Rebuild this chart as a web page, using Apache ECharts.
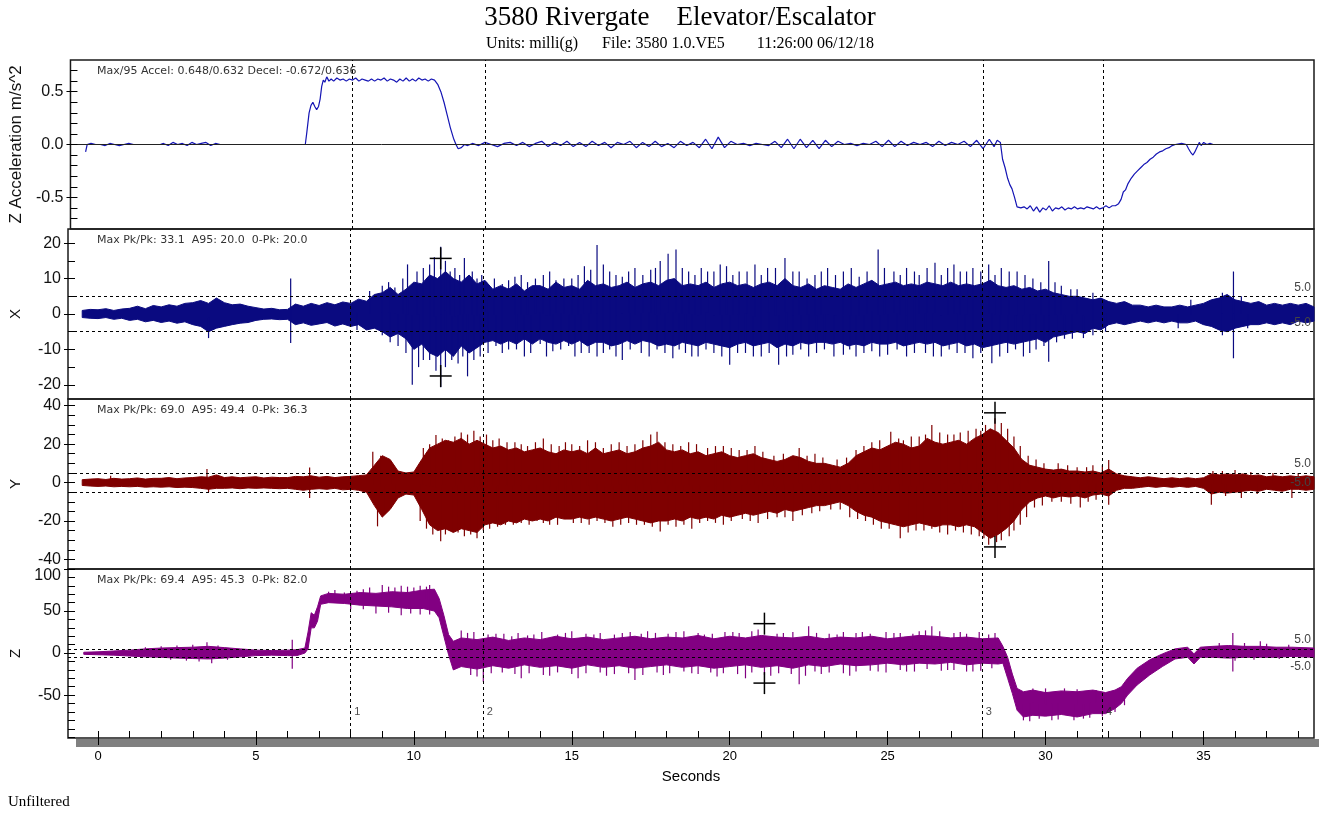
<!DOCTYPE html>
<html lang="en">
<head>
<meta charset="UTF-8">
<title>3580 Rivergate Elevator/Escalator</title>
<script src="https://cdn.jsdelivr.net/npm/echarts@6/dist/echarts.min.js"></script>
<style>
    html, body { margin: 0; background: #fff; }
    #chart { width: 1319px; height: 814px; }
</style>
</head>
<body>
<div id="chart"></div>
<script>
    // ---- Z acceleration trace, [seconds, m/s^2] ----
    var accelTrace = [
        [-0.47,-0.07],[-0.42,0.0],[-0.3,0.01],[-0.15,0.0],[0.0,0.0],[0.15,-0.01],[0.3,0.01],[0.45,0.0],[0.6,-0.01],[0.75,0.0],
        [0.9,0.01],[1.05,0.0],[1.3,0.0],[1.6,0.0],[1.9,0.0],[2.0,0.01],[2.15,-0.01],[2.3,0.02],[2.45,0.0],[2.6,0.01],
        [2.75,-0.01],[2.9,0.02],[3.05,0.0],[3.2,0.01],[3.35,0.02],[3.5,-0.01],[3.65,0.01],[3.8,0.0],[4.0,0.0],[4.5,0.0],
        [5.0,0.0],[5.5,0.0],[6.0,0.0],[6.5,0.0],[6.55,0.12],[6.62,0.3],[6.68,0.37],[6.74,0.40],[6.8,0.36],[6.86,0.33],
        [6.92,0.36],[6.97,0.43],[7.02,0.55],[7.07,0.61],[7.12,0.59],[7.18,0.64],[7.25,0.6],[7.32,0.62],[7.4,0.6],[7.5,0.63],
        [7.6,0.61],[7.7,0.62],[7.8,0.6],[7.9,0.62],[8.0,0.61],[8.1,0.63],[8.2,0.6],[8.3,0.62],[8.4,0.61],[8.5,0.6],
        [8.6,0.62],[8.7,0.6],[8.8,0.62],[8.9,0.61],[9.0,0.63],[9.1,0.6],[9.2,0.62],[9.3,0.61],[9.4,0.59],[9.5,0.62],
        [9.6,0.6],[9.7,0.63],[9.8,0.6],[9.9,0.62],[10.0,0.6],[10.1,0.63],[10.2,0.61],[10.3,0.62],[10.4,0.6],[10.5,0.62],
        [10.6,0.61],[10.7,0.57],[10.8,0.5],[10.9,0.4],[11.0,0.28],[11.1,0.16],[11.2,0.06],[11.28,0.0],[11.35,-0.04],[11.45,-0.03],
        [11.55,0.0],[11.65,-0.01],[11.8,0.01],[12.0,-0.01],[12.2,0.02],[12.4,0.0],[12.6,-0.02],[12.8,0.01],[13.0,0.02],[13.2,-0.01],
        [13.4,0.02],[13.6,-0.02],[13.8,0.01],[14.0,0.03],[14.2,-0.02],[14.4,0.02],[14.6,-0.01],[14.8,0.03],[15.0,-0.02],[15.2,0.02],
        [15.4,-0.02],[15.6,0.03],[15.8,-0.01],[16.0,0.02],[16.2,-0.03],[16.4,0.02],[16.6,0.0],[16.8,0.03],[17.0,-0.03],[17.2,0.02],
        [17.4,-0.02],[17.6,0.03],[17.8,-0.02],[18.0,0.01],[18.2,-0.03],[18.4,0.03],[18.6,-0.01],[18.8,0.02],[19.0,-0.03],[19.2,0.05],
        [19.4,-0.04],[19.6,0.07],[19.8,-0.03],[20.0,0.03],[20.2,0.0],[20.4,0.01],[20.6,-0.01],[20.8,0.01],[21.0,0.0],[21.2,-0.01],
        [21.4,0.03],[21.6,-0.03],[21.8,0.05],[22.0,-0.04],[22.2,0.05],[22.4,-0.03],[22.6,0.04],[22.8,-0.04],[23.0,0.04],[23.2,-0.02],
        [23.4,0.03],[23.6,0.0],[23.8,0.01],[24.0,-0.01],[24.2,0.01],[24.4,0.0],[24.6,0.03],[24.8,-0.02],[25.0,0.04],[25.2,-0.02],
        [25.4,0.03],[25.6,-0.01],[25.8,0.02],[26.0,0.0],[26.2,0.02],[26.4,-0.02],[26.6,0.03],[26.8,-0.01],[27.0,0.02],[27.2,0.0],
        [27.4,0.03],[27.6,-0.02],[27.8,0.04],[28.0,-0.04],[28.2,0.05],[28.35,-0.02],[28.45,0.04],[28.55,0.02],[28.62,-0.14],[28.7,-0.22],
        [28.78,-0.32],[28.85,-0.38],[28.92,-0.42],[29.0,-0.5],[29.08,-0.59],[29.2,-0.6],[29.3,-0.59],[29.4,-0.61],[29.5,-0.58],[29.6,-0.63],
        [29.7,-0.59],[29.8,-0.64],[29.9,-0.6],[30.0,-0.62],[30.1,-0.58],[30.2,-0.63],[30.3,-0.6],[30.4,-0.61],[30.5,-0.59],[30.6,-0.62],
        [30.7,-0.6],[30.8,-0.61],[30.9,-0.59],[31.0,-0.61],[31.1,-0.6],[31.2,-0.61],[31.3,-0.59],[31.4,-0.6],[31.5,-0.61],[31.6,-0.59],
        [31.7,-0.61],[31.8,-0.6],[31.9,-0.58],[32.0,-0.6],[32.1,-0.58],[32.2,-0.58],[32.3,-0.56],[32.38,-0.52],[32.45,-0.45],[32.52,-0.43],
        [32.6,-0.37],[32.7,-0.32],[32.8,-0.28],[32.9,-0.25],[33.0,-0.22],[33.1,-0.19],[33.2,-0.17],[33.3,-0.14],[33.4,-0.12],[33.5,-0.09],
        [33.6,-0.07],[33.7,-0.06],[33.8,-0.04],[33.9,-0.03],[34.0,-0.01],[34.1,0.0],[34.3,0.01],[34.45,0.0],[34.52,-0.04],[34.6,-0.08],
        [34.66,-0.1],[34.72,-0.07],[34.8,-0.02],[34.86,0.02],[34.92,-0.01],[35.0,0.02],[35.1,0.0],[35.2,0.01],[35.3,0.0],[35.5,0.0],
        [36.0,0.0],[36.5,0.0],[37.0,0.0],[37.5,0.0],[38.0,0.0],[38.35,0.0]
    ];

    // ---- X / Y vibration envelopes (milli-g), every 0.25 s from -0.5 s to 38.5 s ----
    var envStart = -0.5, envStep = 0.25;

    var xHi = [1,1.3,
        1.2,1.5,1.0,1.4, 1.6,2.2,1.5,2.4, 2.0,2.6,2.2,3.0, 3.2,3.8,3.0,4.5, 3.2,2.6,2.8,2.2,
        1.8,1.4,1.6,1.2, 1.3,2.8,2.2,3.0, 2.4,3.2,2.6,3.4, 3.0,4.2,3.6,5.5, 6.0,7.5,5.5,7.0,
        9.0,8.5,11,10, 12,10,9,11, 8.5,9.5,7.0,8.0, 7.0,8.5,6.5,8.0, 8.0,7.0,9.0,7.5,
        8.0,7.0,9.5,8.0, 8.5,7.5,8.0,9.0, 7.5,8.5,9.0,8.0, 9.5,10,8.0,8.5, 8.0,9.0,7.5,8.5,
        9.0,8.0,8.5,7.5, 8.5,9.0,8.0,10, 8.0,7.5,8.5,7.0, 8.0,7.5,7.0,8.5, 7.5,8.5,9.5,8.0,
        8.5,9.0,8.0,8.5, 8.0,9.0,8.5,8.0, 9.0,8.0,8.5,8.0, 8.5,9.5,8.0,7.5, 8.0,7.0,7.5,6.5,
        7.0,6.0,5.5,5.0, 5.0,4.5,4.0,4.5, 3.5,3.0,3.5,2.5, 2.5,2.0,2.5,2.0, 2.0,2.5,2.0,2.5,
        3.0,4.0,4.5,5.5, 4.0,3.5,3.0,3.5, 2.5,3.0,2.5,3.0, 2.5,3.0,2.0];
    var xLo = [-1,-1.2,
        -1.3,-1.0,-1.5,-1.2, -1.8,-1.5,-2.2,-1.8, -2.4,-2.0,-2.6,-2.2, -3.0,-3.5,-5.0,-4.0, -3.5,-3.0,-2.6,-2.4,
        -1.8,-1.5,-1.4,-1.6, -1.5,-3.0,-2.5,-3.2, -2.8,-2.4,-3.4,-2.8, -3.5,-3.0,-4.5,-4.0, -5.0,-6.5,-5.5,-7.0,
        -10,-8.5,-11,-12, -10,-12,-9.0,-11, -9.5,-8.0,-7.5,-8.5, -7.5,-8.5,-7.0,-8.5, -7.0,-8.0,-8.5,-7.5,
        -8.5,-7.5,-9.0,-8.0, -8.0,-9.0,-8.5,-7.5, -8.5,-7.5,-8.0,-9.0, -8.5,-9.0,-8.0,-8.5, -9.0,-8.0,-8.5,-9.0,
        -9.5,-8.5,-8.0,-9.0, -8.5,-8.0,-9.5,-8.5, -9.0,-8.0,-8.5,-8.0, -8.0,-8.5,-8.0,-9.0, -8.5,-9.0,-8.0,-8.5,
        -8.5,-8.0,-9.0,-8.5, -8.0,-8.5,-8.0,-9.0, -8.5,-8.0,-9.0,-8.5, -9.5,-9.0,-8.5,-8.0, -8.5,-8.0,-7.5,-7.0,
        -8.0,-6.5,-6.0,-5.5, -5.0,-5.5,-4.0,-4.5, -3.0,-2.5,-3.0,-2.5, -2.0,-2.5,-2.0,-2.5, -2.0,-2.5,-2.5,-2.0,
        -3.0,-3.5,-4.5,-5.0, -4.0,-3.5,-3.0,-3.0, -2.5,-3.0,-2.5,-3.0, -2.0,-2.5,-2.0];

    var yHi = [1.5,1.8,
        2.0,1.6,2.2,1.8, 2.0,2.4,1.8,2.2, 2.2,2.6,2.0,2.4, 2.6,3.0,2.8,4.0, 2.6,3.0,2.5,2.8,
        3.0,2.4,2.8,2.6, 2.6,3.2,3.0,3.5, 2.8,3.2,2.6,3.0, 3.2,3.6,4.0,9.0, 14,12,6.0,5.0,
        5.5,12,18,20, 22,21,23,20, 22,20,18,19, 17,18,16,17, 18,16,15,17,
        16,17,15,18, 15,16,17,15, 16,18,19,21, 17,16,17,15, 16,14,15,16,
        14,13,14,15, 13,12,11,12, 14,13,11,10, 10,9.0,8.0,10, 14,16,18,17,
        19,21,20,18, 19,23,21,20, 21,22,20,23, 25,28,26,22, 18,12,9.0,8.0,
        7.0,6.5,7.0,6.0, 6.0,5.5,6.0,5.0, 7.0,4.5,3.5,3.0, 2.5,3.0,2.5,2.0, 2.5,2.0,2.5,2.0,
        2.5,4.5,4.0,4.5, 4.0,4.5,3.5,4.0, 3.0,3.5,3.0,3.5, 3.0,3.5,3.0];
    var yLo = [-1.5,-1.8,
        -2.0,-1.8,-2.2,-2.0, -2.2,-2.0,-2.4,-2.2, -2.4,-2.2,-2.6,-2.4, -2.6,-3.0,-3.5,-3.0, -3.0,-2.8,-3.2,-2.8,
        -3.0,-2.8,-3.0,-3.2, -3.0,-3.5,-4.0,-3.5, -3.2,-3.5,-3.0,-3.8, -3.5,-4.0,-5.0,-12, -18,-14,-8.0,-6.0,
        -6.5,-14,-22,-25, -24,-26,-24,-25, -26,-22,-21,-22, -20,-21,-19,-20, -19,-20,-18,-19,
        -19,-18,-19,-18, -19,-20,-19,-18, -19,-20,-21,-20, -20,-19,-20,-18, -19,-18,-19,-17,
        -18,-17,-16,-17, -16,-15,-16,-14, -15,-14,-13,-12, -12,-11,-10,-12, -15,-17,-18,-20,
        -21,-22,-23,-22, -21,-22,-23,-22, -22,-23,-22,-23, -26,-29,-27,-24, -20,-14,-10,-8.0,
        -7.0,-8.0,-7.0,-7.5, -7.0,-8.0,-6.5,-6.0, -7.0,-4.0,-3.0,-3.0, -2.5,-2.0,-2.5,-2.0, -2.5,-2.0,-2.5,-2.0,
        -3.0,-6.0,-5.0,-5.5, -5.0,-4.5,-4.0,-4.5, -3.5,-4.0,-4.5,-3.5, -3.5,-4.0,-3.5];

    // ---- Z vibration envelope, uneven sampling around the ramps ----
    var zT = [-0.45,0,0.5,1,1.5,2,2.5,3,3.5,4, 4.5,5,5.5,6,6.3,6.55,6.65,6.75,6.85,6.95,
        7.05,7.3,7.8,8.3,8.8,9.3,9.8,10.3,10.65,10.8, 10.95,11.1,11.25,11.5,12,12.5,13,13.5,14,14.5,
        15,15.5,16,16.5,17,17.5,18,18.5,19,19.5, 20,20.5,21,21.5,22,22.5,23,23.5,24,24.5,
        25,25.5,26,26.5,27,27.5,28,28.5,28.65,28.8, 28.95,29.1,29.3,29.6,30,30.5,31,31.5,31.9,32.2,
        32.4,32.6,32.9,33.3,33.7,34.1,34.5,34.7,34.9,35.3, 35.8,36.3,36.8,37.3,37.8,38.5];
    var zHi = [1,1.5,2.5,3.5,5,6,6.5,7,8,6.5, 5,3.5,3,3.5,4,6,25,48,45,55,
        68,71,70,72,71,73,72,75,76,65, 45,22,14,18,16,19,15,18,16,20,
        17,19,16,18,20,17,19,18,21,17, 20,18,21,19,18,20,17,19,18,20,
        17,19,21,20,18,19,17,18,8,-5, -25,-42,-46,-44,-47,-45,-46,-44,-47,-44,
        -40,-30,-18,-8,-1,5,7,-1,7,8, 9,8,8,7,7,6];
    var zLo = [-1.5,-2,-2.5,-3.5,-4.5,-5,-6,-6.5,-7,-6, -4.5,-3,-2.5,-3,-3,0,5,30,30,38,
        58,60,59,57,56,55,53,53,50,42, 20,-2,-20,-16,-19,-15,-18,-14,-17,-15,
        -18,-14,-17,-15,-18,-16,-14,-17,-15,-18, -16,-14,-17,-15,-18,-14,-16,-13,-15,-14,
        -12,-14,-12,-13,-11,-14,-12,-13,-12,-30, -48,-68,-76,-74,-75,-73,-76,-72,-72,-66,
        -60,-50,-38,-26,-16,-7,-5,-13,-5,-5, -6,-5,-5,-5,-4,-5];

    // ---- single peaks standing out of the bands, [seconds, value] ----
    var xSpikes = [[6.1,10],[8.6,6.5],[9.0,8],[9.2,9],[9.4,7.5],[9.65,10],[9.8,14],[10.1,12],[10.3,13],[10.5,14],
        [10.65,16],[10.85,19],[11.0,15],[11.15,12],[11.3,13],[11.45,11],[11.6,15.8],[11.85,12],[12.0,10],[12.15,11],
        [12.3,9],[12.55,10],[12.8,8.5],[13.0,9.5],[13.2,10.5],[13.4,11],[13.6,9],[13.85,10],[14.1,11],[14.3,12],
        [14.5,9.5],[14.75,10],[15.0,10],[15.2,11],[15.4,13.5],[15.6,12.5],[15.8,19.5],[16.0,14],[16.2,12],[16.4,11],
        [16.6,10.5],[16.8,12],[17.0,13],[17.25,11],[17.5,12.5],[17.65,13],[17.8,15],[18.05,17],[18.3,18.2],[18.5,13],
        [18.7,12],[18.9,11],[19.1,13],[19.3,12],[19.5,12],[19.7,14],[19.9,13.5],[20.1,11],[20.3,12],[20.55,12],
        [20.8,14],[21.0,11],[21.2,13],[21.45,13],[21.75,15.8],[22.0,12],[22.2,12],[22.45,10],[22.7,11],[22.9,12],
        [23.1,13],[23.35,11],[23.6,12],[23.85,13],[24.1,10.5],[24.35,12],[24.7,18.2],[24.9,13],[25.2,12],[25.4,11],
        [25.6,13],[25.85,12],[26.0,11],[26.25,13],[26.5,14.5],[26.7,11],[26.9,13],[27.1,14],[27.3,12],[27.5,12],
        [27.7,13],[27.95,12],[28.2,14],[28.4,11],[28.6,13],[28.85,12],[29.1,12],[29.35,11],[29.6,10],[29.85,9],
        [30.1,15],[30.3,9],[30.5,8],[30.8,7],[31.0,7],[31.5,6],[34.6,4],[35.6,6],[35.95,12],[36.2,5],
        [3.5,-6.8],[6.1,-8.2],[8.2,-4.5],[9.0,-6],[9.25,-8],[9.5,-9],[9.75,-11],[9.95,-20],[10.15,-15],[10.3,-13],
        [10.5,-13],[10.7,-16],[10.85,-20.7],[11.0,-15],[11.2,-13],[11.4,-14],[11.55,-12],[11.7,-17.6],[11.9,-13],[12.1,-12],
        [12.35,-11],[12.6,-9],[12.8,-11],[13.0,-10],[13.25,-10],[13.5,-12],[13.7,-11],[14.0,-8.5],[14.2,-12],[14.4,-10.5],
        [14.65,-10],[14.9,-9],[15.1,-12],[15.3,-11],[15.55,-11],[15.8,-12],[16.0,-11],[16.2,-10],[16.4,-12],[16.6,-13],
        [16.85,-10],[17.2,-11],[17.45,-12],[17.7,-10],[17.95,-11],[18.2,-12.5],[18.4,-10],[18.6,-11],[18.8,-12],[19.0,-12],
        [19.25,-10],[19.5,-11],[19.75,-12],[20.0,-14.3],[20.25,-11],[20.5,-11],[20.75,-12],[21.0,-12],[21.25,-11],[21.55,-14.3],
        [21.8,-12],[22.0,-11.5],[22.25,-10],[22.5,-12],[22.75,-11],[23.0,-10],[23.3,-12],[23.6,-11.5],[23.8,-10],[24.0,-12],
        [24.25,-11],[24.5,-10.5],[24.75,-12],[25.0,-11.5],[25.3,-10],[25.6,-12],[25.85,-11],[26.2,-11],[26.45,-12],[26.7,-12],
        [26.95,-10],[27.2,-11],[27.45,-11],[27.7,-12.5],[27.95,-11],[28.3,-13.9],[28.55,-12],[28.8,-11],[29.05,-10],[29.3,-12],
        [29.5,-11],[29.7,-10],[29.95,-9],[30.1,-13.5],[30.35,-8],[30.6,-7],[30.85,-7],[31.2,-6.8],[31.5,-6],[31.9,-5],
        [34.2,-4],[35.6,-6],[35.95,-12.5],[36.4,-4]];
    var ySpikes = [[0.4,3.5],[3.45,7],[6.7,7.8],[8.7,16],[8.95,14],[9.3,10],[10.3,18],[10.5,20],[10.7,24.8],[10.9,23],
        [11.1,22],[11.3,24],[11.5,26],[11.7,25],[11.9,27],[12.1,24],[12.3,25],[12.5,22],[12.7,23],[12.95,21],
        [13.2,21],[13.4,20],[13.6,19],[13.85,21],[14.1,23],[14.35,20],[14.6,19],[14.8,21],[15.0,20],[15.25,19],
        [15.5,22],[15.75,21],[16.0,18],[16.25,20],[16.5,21],[16.75,19],[17.0,20],[17.25,22],[17.5,25],[17.7,26.5],
        [17.95,21],[18.2,20],[18.45,19],[18.7,21],[18.95,20],[19.3,18],[19.55,19],[19.8,19],[20.05,18],[20.3,17],
        [20.55,17],[20.8,19],[21.05,16],[21.4,14],[21.7,15],[22.2,18],[22.45,14],[22.7,15],[22.95,13],[23.4,12],
        [23.7,13],[24.0,17],[24.25,19],[24.5,21],[24.75,22],[25.1,26.5],[25.35,23],[25.5,22],[25.75,24],[26.0,24],
        [26.2,25],[26.4,30],[26.65,26],[26.9,25],[27.1,25],[27.3,26],[27.55,27],[27.8,28],[27.95,27],[28.1,30],
        [28.4,33.5],[28.6,31],[28.8,28],[29.0,24],[29.2,19],[29.45,14],[29.7,12],[29.95,10],[30.4,10],[30.7,9],
        [31.0,8],[31.3,8],[31.5,9],[31.8,9],[32.0,11.8],[35.3,6],[35.6,6],[36.0,6.5],[36.5,5.5],[37.2,5],[38.0,5],
        [3.5,-5],[6.7,-8],[8.85,-22.8],[9.1,-16],[9.4,-9],[10.2,-20],[10.4,-24],[10.6,-27],[10.85,-30.6],[11.0,-27],
        [11.2,-25],[11.4,-26],[11.6,-28],[11.8,-27],[12.0,-29],[12.2,-25],[12.4,-24],[12.65,-23],[12.9,-22],[13.15,-22],
        [13.4,-21],[13.65,-22],[13.9,-20],[14.1,-21],[14.3,-22],[14.55,-22],[14.8,-19],[15.05,-21],[15.3,-21],[15.55,-22],
        [15.8,-20],[16.05,-21],[16.3,-23],[16.55,-22],[16.8,-21],[17.05,-22],[17.3,-22],[17.55,-23],[17.8,-25.5],[18.05,-22],
        [18.3,-23],[18.55,-22],[18.8,-24],[19.05,-21],[19.3,-20],[19.55,-21],[19.8,-22],[20.05,-20],[20.4,-19],[20.65,-20],
        [20.9,-21],[21.2,-19],[21.5,-18],[21.75,-18],[22.0,-20],[22.3,-17],[22.6,-16],[22.85,-15],[23.2,-14],[23.5,-14],
        [23.8,-18],[24.05,-19],[24.3,-20],[24.55,-22],[24.8,-24],[25.05,-24],[25.4,-29],[25.65,-26],[25.9,-25],[26.15,-25],
        [26.4,-24],[26.65,-26],[26.9,-27],[27.15,-25],[27.4,-26],[27.65,-27],[27.9,-28],[28.05,-29],[28.2,-32.4],[28.45,-31],
        [28.6,-30],[28.85,-28],[29.0,-25],[29.2,-22],[29.4,-18],[29.65,-13],[29.9,-12],[30.2,-10],[30.5,-10],[30.8,-11],
        [31.1,-13],[31.35,-10],[31.6,-9],[32.0,-11.6],[35.25,-11.6],[35.7,-7],[36.2,-8],[36.7,-6],[37.8,-8]];
    var zSpikes = [[1.5,7],[2.0,8],[2.5,9],[3.0,10],[3.45,13],[3.8,9],[2.3,-8],[2.8,-9],[3.2,-10],[3.6,-12],[4.1,-8],
        [6.15,16],[6.15,-18.7],[7.3,73],[7.5,75],[7.8,72],[8.2,74],[8.4,76],[8.6,78],[9.0,81],[9.2,79],[9.4,78],
        [9.6,80],[9.8,79],[10.0,78],[10.2,80],[10.4,79],[10.5,81],[8.0,52],[8.4,52],[8.8,47],[9.2,48],[9.6,45],[9.9,47],
        [10.2,46],[10.5,46],
        [11.5,27],[11.7,24],[11.9,25],[12.35,22],[12.6,23],[12.85,23],[13.1,20],[13.3,24],[13.6,21],[13.8,22],
        [14.05,25],[14.55,22],[14.8,24],[15.0,26],[15.45,23],[15.7,22],[15.9,24],[16.35,22],[16.6,24],[16.85,25],
        [17.2,23],[17.4,26],[17.65,24],[18.05,23],[18.3,25],[18.55,26],[19.0,24],[19.2,22],[19.45,23],[19.85,25],
        [20.1,25],[20.3,24],[20.7,26],[20.9,28],[21.5,23],[21.7,24],[22.0,25],[22.5,32],[22.75,24],[23.15,23],
        [23.4,22],[23.6,25],[24.0,24],[24.2,25],[24.45,23],[24.95,25],[25.2,24],[25.4,24],[25.8,23],[26.0,26],
        [26.2,27],[26.4,32],[26.65,26],[27.1,24],[27.3,25],[27.5,23],[27.9,25],[28.2,22],[28.4,24],
        [11.8,-26],[12.0,-28],[12.2,-34],[12.45,-24],[12.8,-23],[13.2,-25],[13.4,-30],[13.65,-24],[14.1,-26],[14.3,-27],
        [14.55,-23],[15.0,-25],[15.2,-30],[15.45,-24],[15.9,-23],[16.1,-27],[16.35,-25],[16.8,-24],[17.0,-32],[17.25,-26],
        [17.7,-23],[17.9,-26],[18.1,-24],[18.55,-22],[18.8,-24],[19.0,-25],[19.4,-23],[19.6,-28],[19.8,-24],[20.25,-25],
        [20.5,-30],[20.7,-23],[21.1,-26],[21.3,-27],[21.55,-24],[21.95,-25],[22.2,-37],[22.4,-27],[22.7,-22],[22.9,-25],
        [23.15,-23],[23.6,-24],[23.8,-27],[24.0,-22],[24.45,-21],[24.7,-22],[24.95,-23],[25.4,-20],[25.6,-22],[25.85,-22],
        [26.25,-19],[26.7,-21],[26.9,-20],[27.1,-20],[27.5,-22],[27.7,-22],[27.95,-21],[28.3,-18],
        [29.3,-80],[29.5,-81],[29.6,-42],[29.8,-78],[30.0,-42],[30.2,-80],[30.4,-79],[30.6,-42],[30.9,-80],[31.0,-43],
        [31.2,-78],[31.4,-77],[31.6,-44],[31.8,-75],[32.0,-70],[32.2,-70],[32.5,-62],
        [35.5,12],[35.93,24],[36.3,12],[36.8,14],[37.0,11],[37.7,10],[35.93,-22],[36.0,-9],[36.6,-8],[37.4,-7]];

    // peak cursors (+ marks)
    var xPeaks = [[10.85, 15.7], [10.85, -17.5]];
    var yPeaks = [[28.4, 36.3], [28.4, -33.5]];
    var zPeaks = [[21.1, 35], [21.1, -35.7]];

    // time cursors
    var cursorTimes = [8.0, 12.2, 28.0, 31.8];
    var cursorNames = ['1', '2', '3', '4'];

    var panelNotes = [
        'Max/95 Accel: 0.648/0.632 Decel: -0.672/0.636',
        'Max Pk/Pk: 33.1  A95: 20.0  0-Pk: 20.0',
        'Max Pk/Pk: 69.0  A95: 49.4  0-Pk: 36.3',
        'Max Pk/Pk: 69.4  A95: 45.3  0-Pk: 82.0'
    ];
    var secondLabels = [0, 5, 10, 15, 20, 25, 30, 35];

    // ---- layout ----
    var SANS = 'Liberation Sans, Arial, sans-serif';
    var SERIF = 'Liberation Serif, Times New Roman, serif';
    var gridLeft = 67, gridRight = 5;
    var tMin = -0.95, tMax = 38.5;

    function steps(a, b, s) {
        var out = [];
        for (var v = a; v <= b + 1e-9; v += s) out.push(Math.round(v * 100) / 100);
        return out;
    }

    var envT = xHi.map(function (_, k) { return envStart + k * envStep; });

    var panels = [
        {top: 60, height: 169, min: -0.8, max: 0.8, labels: [-0.5, 0, 0.5], minor: steps(-0.7, 0.7, 0.1),
            name: 'Z Acceleration m/s^2', nameSize: 17, fmt: function (v) { return v.toFixed(1); }},
        {top: 229, height: 170, min: -24, max: 24, labels: [-20, -10, 0, 10, 20], minor: steps(-20, 20, 5),
            name: 'X', nameSize: 15, fmt: function (v) { return String(v); }},
        {top: 399, height: 170, min: -45, max: 43.5, labels: [-40, -20, 0, 20, 40], minor: steps(-40, 40, 5),
            name: 'Y', nameSize: 15, fmt: function (v) { return String(v); }},
        {top: 569, height: 169, min: -101, max: 100, labels: [-50, 0, 50, 100], minor: steps(-100, 100, 10),
            name: 'Z', nameSize: 15, fmt: function (v) { return v === 100 ? '{t|100}' : String(v); }}
    ];

    var grids = [], xAxes = [], yAxes = [], series = [];

    panels.forEach(function (p, i) {
        grids.push({left: gridLeft, right: gridRight, top: p.top, height: p.height,
            show: true, borderColor: '#1a1a1a', borderWidth: 1.5, backgroundColor: 'transparent'});
        var bottom = i === panels.length - 1;
        xAxes.push({
            type: 'value', gridIndex: i, min: tMin, max: tMax, z: 5, position: 'bottom',
            axisLine: {show: false, onZero: false},
            splitLine: {show: false},
            axisTick: bottom ? {show: true, inside: false, length: 7, customValues: secondLabels,
                lineStyle: {color: '#000', width: 1}} : {show: false},
            axisLabel: bottom ? {show: true, customValues: secondLabels, margin: 12, fontSize: 13,
                color: '#000', fontFamily: SANS} : {show: false},
            name: bottom ? 'Seconds' : '', nameLocation: 'middle', nameGap: 31,
            nameTextStyle: {fontSize: 15, color: '#000', fontFamily: SANS}
        });
        yAxes.push({
            type: 'value', gridIndex: i, min: p.min, max: p.max, z: 5, position: 'left',
            axisLine: {show: false, onZero: false}, splitLine: {show: false},
            axisTick: {show: true, inside: false, length: 4, customValues: p.labels, lineStyle: {color: '#000'}},
            axisLabel: {show: true, customValues: p.labels, formatter: p.fmt, fontSize: 16, color: '#111',
                fontFamily: SANS, margin: 7, rich: {t: {fontSize: 16, fontFamily: SANS, color: '#111', padding: [14, 0, 0, 0]}}},
            name: p.name, nameLocation: 'middle', nameGap: 45, nameRotate: 90,
            nameTextStyle: {fontSize: p.nameSize, color: '#111', fontFamily: SANS}
        });
    });
    // minor ticks, drawn inside the frame
    panels.forEach(function (p, i) {
        yAxes.push({
            type: 'value', gridIndex: i, min: p.min, max: p.max, z: 5, position: 'left',
            axisLine: {show: false, onZero: false}, splitLine: {show: false}, axisLabel: {show: false},
            axisTick: {show: true, inside: true, length: 7, customValues: p.minor, lineStyle: {color: '#000'}}
        });
    });
    xAxes.push({
        type: 'value', gridIndex: 3, min: tMin, max: tMax, z: 5, position: 'bottom',
        axisLine: {show: false, onZero: false}, splitLine: {show: false}, axisLabel: {show: false},
        axisTick: {show: true, inside: true, length: 7, customValues: steps(0, 38, 1), lineStyle: {color: '#000'}}
    });

    function midAt(T, hi, lo, t) {
        if (t <= T[0]) return (hi[0] + lo[0]) / 2;
        for (var k = 1; k < T.length; k++) {
            if (t <= T[k]) {
                var f = (t - T[k - 1]) / (T[k] - T[k - 1]);
                var a = (hi[k - 1] + lo[k - 1]) / 2, b = (hi[k] + lo[k]) / 2;
                return a + f * (b - a);
            }
        }
        return (hi[T.length - 1] + lo[T.length - 1]) / 2;
    }

    function bandSeries(i, T, hi, lo, color) {
        return {
            type: 'custom', xAxisIndex: i, yAxisIndex: i, silent: true, z: 2,
            data: [[T[0], hi[0]]],
            renderItem: function (params, api) {
                var pts = [];
                for (var k = 0; k < T.length; k++) pts.push(api.coord([T[k], hi[k]]));
                for (var m = T.length - 1; m >= 0; m--) pts.push(api.coord([T[m], lo[m]]));
                return {type: 'polygon', shape: {points: pts}, style: {fill: color, stroke: color, lineWidth: 1}};
            }
        };
    }

    function spikeSeries(i, spikes, T, hi, lo, color) {
        return {
            type: 'custom', xAxisIndex: i, yAxisIndex: i, silent: true, z: 2,
            data: spikes,
            renderItem: function (params, api) {
                var t = api.value(0), v = api.value(1);
                var a = api.coord([t, midAt(T, hi, lo, t)]);
                var b = api.coord([t, v]);
                return {type: 'line', shape: {x1: a[0], y1: a[1], x2: b[0], y2: b[1]},
                    style: {stroke: color, lineWidth: 1.2}};
            }
        };
    }

    function crossSeries(i, peaks) {
        return {
            type: 'custom', xAxisIndex: i, yAxisIndex: i, silent: true, z: 6,
            data: peaks,
            renderItem: function (params, api) {
                var c = api.coord([api.value(0), api.value(1)]);
                var st = {stroke: '#000', lineWidth: 1.5};
                return {type: 'group', children: [
                    {type: 'line', shape: {x1: c[0] - 11, y1: c[1], x2: c[0] + 11, y2: c[1]}, style: st},
                    {type: 'line', shape: {x1: c[0], y1: c[1] - 11, x2: c[0], y2: c[1] + 11}, style: st}
                ]};
            }
        };
    }

    function guideSeries(i, withLimits, minusPos) {
        var lines = cursorTimes.map(function (t) { return {xAxis: t}; });
        if (withLimits) {
            lines.push({yAxis: 5, label: {show: true, formatter: '5.0', position: 'insideEndTop'}});
            lines.push({yAxis: -5, label: {show: true, formatter: '-5.0', position: minusPos}});
        } else {
            lines.push({yAxis: 0, lineStyle: {type: 'solid', color: '#222', width: 1}});
        }
        return {
            type: 'line', xAxisIndex: i, yAxisIndex: i, data: [], z: 4,
            markLine: {
                silent: true, symbol: 'none', animation: false,
                lineStyle: {type: [3, 3], color: '#000', width: 1},
                label: {show: false, color: '#444', fontSize: 12, fontFamily: SANS, distance: 3},
                data: lines
            }
        };
    }

    // top panel: acceleration trace
    series.push({
        type: 'line', xAxisIndex: 0, yAxisIndex: 0, data: accelTrace, showSymbol: false, z: 3,
        lineStyle: {color: '#1414b4', width: 1.2}, silent: true
    });
    series.push(guideSeries(0, false));

    series.push(bandSeries(1, envT, xHi, xLo, '#0a0a80'));
    series.push(spikeSeries(1, xSpikes, envT, xHi, xLo, '#0a0a80'));
    series.push(guideSeries(1, true, 'insideEndTop'));
    series.push(crossSeries(1, xPeaks));

    series.push(bandSeries(2, envT, yHi, yLo, '#7f0000'));
    series.push(spikeSeries(2, ySpikes, envT, yHi, yLo, '#7f0000'));
    series.push(guideSeries(2, true, 'insideEndTop'));
    series.push(crossSeries(2, yPeaks));

    series.push(bandSeries(3, zT, zHi, zLo, '#820082'));
    series.push(spikeSeries(3, zSpikes, zT, zHi, zLo, '#820082'));
    series.push(guideSeries(3, true, 'insideEndBottom'));
    series.push(crossSeries(3, zPeaks));

    // cursor numbers near the foot of the Z panel
    series.push({
        type: 'scatter', xAxisIndex: 3, yAxisIndex: 3, z: 6, silent: true,
        symbolSize: 1, itemStyle: {color: 'transparent'},
        data: cursorTimes.map(function (t) { return [t, -70]; }),
        label: {show: true, position: 'right', distance: 3, fontSize: 11, color: '#222', fontFamily: SANS,
            formatter: function (p) { return cursorNames[p.dataIndex]; }}
    });

    var graphics = [
        {type: 'rect', left: 76, top: 739, shape: {width: 1243, height: 8}, style: {fill: '#808080'}, z: -1},
        {type: 'text', x: 680, y: 18, style: {text: '3580 Rivergate    Elevator/Escalator', font: '27px ' + SERIF,
            fill: '#000', textAlign: 'center', textVerticalAlign: 'middle'}},
        {type: 'text', x: 680, y: 44, style: {text: 'Units: milli(g)      File: 3580 1.0.VE5        11:26:00 06/12/18',
            font: '16px ' + SERIF, fill: '#000', textAlign: 'center', textVerticalAlign: 'middle'}},
        {type: 'text', x: 8, y: 802, style: {text: 'Unfiltered', font: '15px ' + SERIF, fill: '#000',
            textVerticalAlign: 'middle'}}
    ];
    panels.forEach(function (p, i) {
        graphics.push({type: 'text', x: 97, y: p.top + 11, z: 10, style: {text: panelNotes[i],
            font: '11px DejaVu Sans, sans-serif', fill: '#333', textVerticalAlign: 'middle'}});
    });

    var myChart = echarts.init(document.getElementById('chart'));
    myChart.setOption({
        animation: false,
        backgroundColor: '#fff',
        grid: grids,
        xAxis: xAxes,
        yAxis: yAxes,
        graphic: graphics,
        series: series
    });
</script>
</body>
</html>
